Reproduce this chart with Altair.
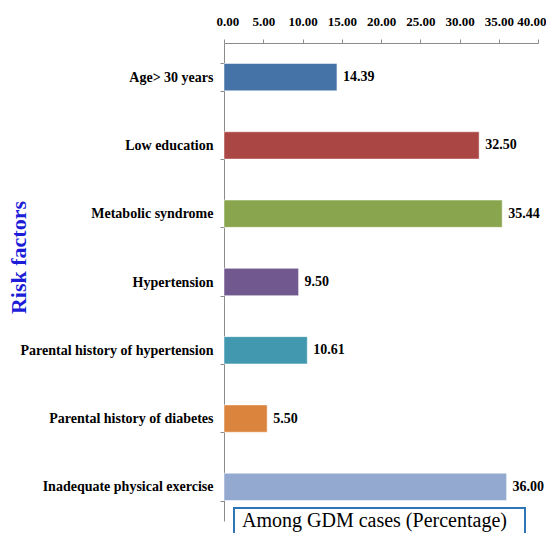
import altair as alt
import pandas as pd

categories = [
    "Age> 30 years",
    "Low education",
    "Metabolic syndrome",
    "Hypertension",
    "Parental history of hypertension",
    "Parental history of diabetes",
    "Inadequate physical exercise",
]
values = [14.39, 32.50, 35.44, 9.50, 10.61, 5.50, 36.00]
colors = ["#4572A7", "#AA4643", "#89A54E", "#71588F", "#4198AF", "#DB843D", "#93A9CF"]
x_ticks = [0, 5, 10, 15, 20, 25, 30, 35, 40]
x_title = "Among GDM cases (Percentage)"
y_title = "Risk factors"

df = pd.DataFrame({
    "factor": categories,
    "value": values,
    "label": [f"{v:.2f}" for v in values],
})

FONT = "Liberation Serif"

x_enc = alt.X(
    "value:Q",
    scale=alt.Scale(domain=[0, 40], nice=False),
    axis=alt.Axis(
        orient="top", values=x_ticks, format=".2f", title=None,
        labelFont=FONT, labelFontWeight="bold", labelFontSize=13, labelColor="black",
        domainColor="#8c8c8c", tickColor="#8c8c8c", tickSize=4, labelPadding=11,
        grid=False, labelFlush=True, labelFlushOffset=8, labelOverlap=False,
        labelSeparation=0,
    ),
)
y_enc = alt.Y(
    "factor:N",
    sort=categories,
    scale=alt.Scale(paddingInner=0.6, paddingOuter=0.3),
    axis=alt.Axis(
        title=y_title, titleFont=FONT, titleFontWeight="bold", titleFontSize=22,
        titleColor="#1c1cd9", titleX=-194, titleY=214, titleAngle=270,
        titleAlign="center",
        labelFont=FONT, labelFontWeight="bold", labelFontSize=14, labelColor="black",
        domainColor="#8c8c8c", tickColor="#8c8c8c", tickSize=4, tickBand="extent",
        labelPadding=7, labelLimit=400,
    ),
)

base = alt.Chart(df)

bars = base.mark_bar(stroke="#ffffff", strokeOpacity=0.5, strokeWidth=1).encode(
    x=x_enc,
    y=y_enc,
    color=alt.Color("factor:N", scale=alt.Scale(domain=categories, range=colors), legend=None),
)

labels = base.mark_text(
    align="left", baseline="middle", dx=6, font=FONT, fontWeight="bold", fontSize=14, color="black"
).encode(
    x=x_enc,
    y=y_enc,
    text="label:N",
)

tdf = pd.DataFrame({"t": [x_title]})
box = alt.Chart(tdf).mark_rect(fill="white", stroke="#2E75B6", strokeWidth=2).encode(
    x=alt.value(10), x2=alt.value(301), y=alt.value(465), y2=alt.value(520)
)
box_text = alt.Chart(tdf).mark_text(
    font=FONT, fontSize=20, color="black", align="left", baseline="alphabetic"
).encode(x=alt.value(18), y=alt.value(484), text="t:N")

chart = alt.layer(bars, labels, box, box_text).properties(
    width=314,
    height=478,
    autosize=alt.AutoSizeParams(type="none"),
    padding={"left": 216, "top": 35, "right": 8, "bottom": 12},
).configure_view(stroke=None).configure_axisX(labelOverlap=False)

chart.save("out.html", embed_options={"renderer": "svg", "actions": False})
